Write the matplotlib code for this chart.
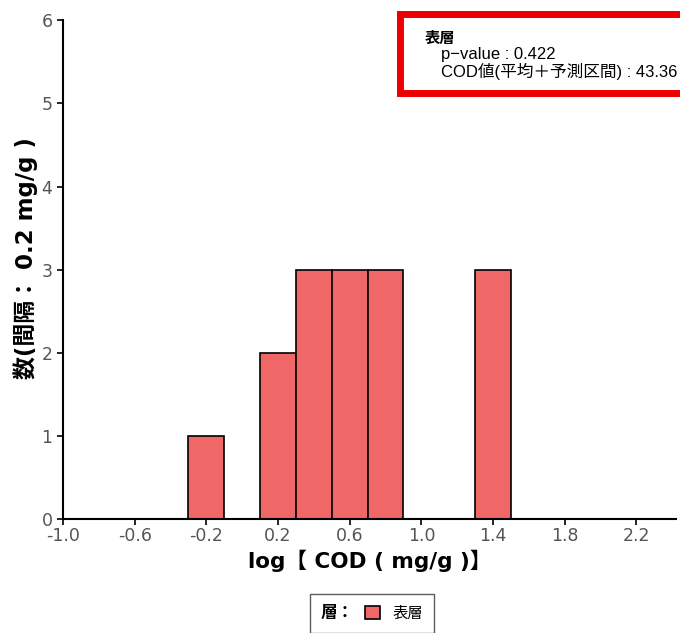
import matplotlib
matplotlib.use("Agg")
import matplotlib.pyplot as plt
from matplotlib.patches import Patch, Rectangle
from matplotlib.offsetbox import HPacker

# histogram bins (left edge) and counts
bin_lefts = [-0.3, 0.1, 0.3, 0.5, 0.7, 1.3]
counts = [1, 2, 3, 3, 3, 3]
bin_width = 0.2

x_ticks = [-1.0, -0.6, -0.2, 0.2, 0.6, 1.0, 1.4, 1.8, 2.2]
y_ticks = [0, 1, 2, 3, 4, 5, 6]

layer_name = "表層"
p_value = 0.422
cod_value = 43.36

bar_color = "#EF6767"
cjk = ["Noto Sans CJK JP", "DejaVu Sans"]
wide = ["DejaVu Sans", "Noto Sans CJK JP"]
arial = ["Liberation Sans", "Noto Sans CJK JP"]

fig = plt.figure(figsize=(6.8, 6.33), dpi=100)
ax = fig.add_axes([0.0926, 0.18, 0.9014, 0.788])

ax.bar(bin_lefts, counts, width=bin_width, align="edge",
       color=bar_color, edgecolor="black", linewidth=1.2)

ax.set_xlim(-1.0, 2.42)
ax.set_ylim(0, 6)
ax.set_xticks(x_ticks)
ax.set_xticklabels(["%.1f" % t for t in x_ticks], family="DejaVu Sans")
ax.set_yticks(y_ticks)
ax.set_yticklabels([str(t) for t in y_ticks], family="DejaVu Sans")
ax.tick_params(axis="both", labelsize=12.5, labelcolor="#555555",
               color="black", length=4, width=1.2)
ax.tick_params(axis="x", pad=2)

for s in ["top", "right"]:
    ax.spines[s].set_visible(False)
for s in ["left", "bottom"]:
    ax.spines[s].set_linewidth(1.5)

ax.set_xlabel("log【 COD ( mg/g )】", fontsize=15.5, fontweight="bold",
              family=wide, labelpad=3)
ax.set_ylabel("数(間隔： 0.2 mg/g )", fontsize=16.5, fontweight="bold",
              family=wide)
ax.yaxis.set_label_coords(-0.04, 0.524)

# annotation box with red frame
fig.patches.append(Rectangle((400 / 680, 1 - 93 / 633), 290 / 680, 79 / 633,
                             transform=fig.transFigure, facecolor="white",
                             edgecolor="#EE0000", linewidth=5, zorder=5))
fig.text(425 / 680, 1 - 38 / 633, layer_name, fontsize=11, fontweight="bold",
         family=cjk, va="center", zorder=6)
fig.text(441 / 680, 1 - 55 / 633, "p\u2212value : %.3f" % p_value, fontsize=12,
         family=arial, va="center", zorder=6)
fig.text(441 / 680, 1 - 71 / 633, "COD値(平均＋予測区間) : %.2f" % cod_value,
         fontsize=12, family=arial, va="center", zorder=6)

# legend at bottom
handles = [Patch(facecolor=bar_color, edgecolor="black", linewidth=1.2)]
leg = fig.legend(handles, [layer_name], loc="lower center",
                 bbox_to_anchor=(0.547, -0.012), ncol=1, title="層：",
                 frameon=True, fancybox=False, edgecolor="#333333",
                 prop={"family": cjk, "size": 11}, handlelength=1.0,
                 handleheight=1.0, borderpad=0.7)
leg.get_title().set_fontproperties({"family": cjk, "size": 12, "weight": "bold"})
# put title beside the entry
box = leg._legend_box
box._children = [HPacker(children=box._children, align="center", pad=0, sep=8)]

fig.savefig("out.png", dpi=100)
